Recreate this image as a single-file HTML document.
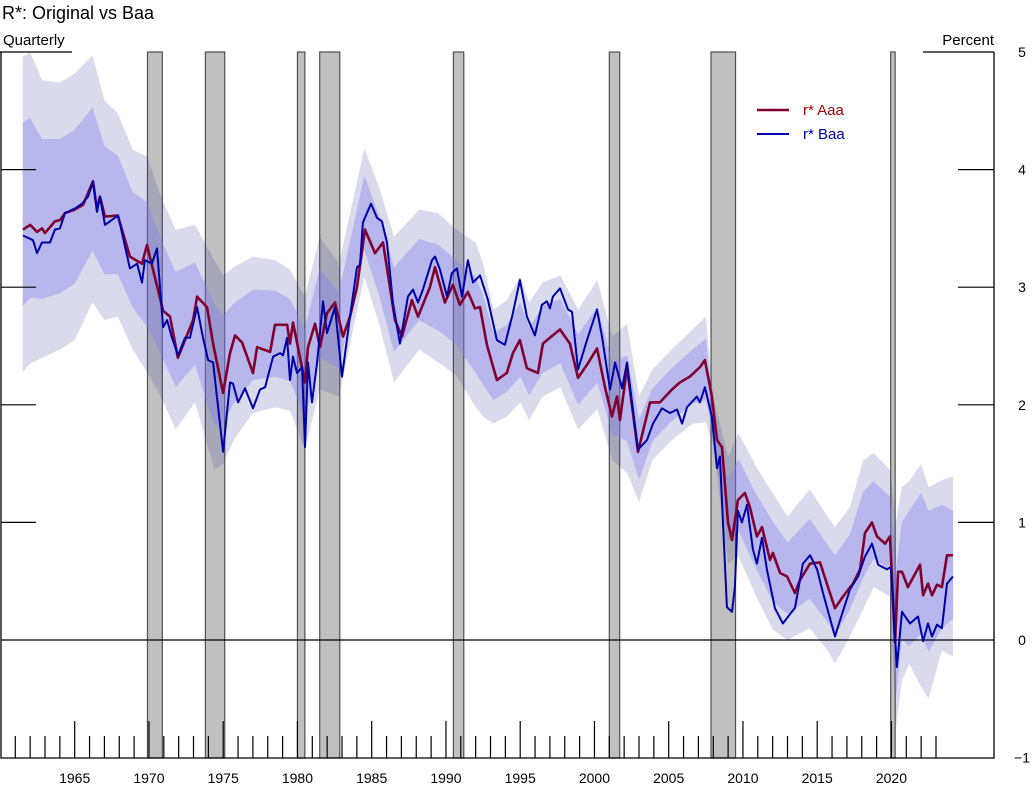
<!DOCTYPE html>
<html><head><meta charset="utf-8"><style>
html,body{margin:0;padding:0;background:#fff;}
svg{display:block;font-family:"Liberation Sans",Arial,sans-serif;}
</style></head><body>
<svg id="chart" width="1034" height="790" viewBox="0 0 1034 790" xmlns="http://www.w3.org/2000/svg">
<text x="2" y="19" font-size="18" fill="#000">R*: Original vs Baa</text>
<text x="3" y="45" font-size="15" fill="#000">Quarterly</text>
<text x="994" y="45" font-size="15" fill="#000" text-anchor="end">Percent</text>
<g id="rec"></g>
<g id="bands"></g>
<g id="axes"></g>
<g id="lines"></g>
<g>
<line x1="757" y1="110" x2="789" y2="110" stroke="#800030" stroke-width="2.5"/>
<text x="803" y="115" font-size="15" fill="#a00000">r* Aaa</text>
<line x1="757" y1="134" x2="789" y2="134" stroke="#0000a8" stroke-width="2"/>
<text x="803" y="139" font-size="15" fill="#0000a0">r* Baa</text>
</g>
</svg>
<script>
const recStart=[1969.9,1973.8,1980.0,1981.5,1990.5,2001.0,2007.85,2019.95];
const recEnd=[1970.9,1975.1,1980.5,1982.85,1991.2,2001.7,2009.5,2020.25];
const yTicks=[-1,0,1,2,3,4,5];
const aaaYears=[1961.52,1962.0,1962.46,1962.8,1963.0,1963.67,1964.0,1964.35,1965.0,1965.56,1966.23,1966.5,1966.7,1967.04,1967.9,1968.72,1969.53,1969.87,1970.27,1970.95,1971.42,1971.95,1972.97,1973.24,1973.91,1974.32,1974.99,1975.46,1975.8,1976.27,1977.01,1977.28,1978.16,1978.49,1979.3,1979.5,1979.7,1980.51,1980.71,1981.18,1981.52,1981.99,1982.53,1983.07,1983.54,1984.01,1984.55,1985.22,1985.76,1986.57,1987.04,1987.71,1988.12,1988.92,1989.26,1989.93,1990.47,1990.94,1991.48,1991.95,1992.29,1992.76,1993.43,1994.1,1994.51,1994.98,1995.45,1996.19,1996.53,1997.0,1997.68,1998.35,1998.89,1999.5,2000.17,2000.71,2001.18,2001.52,2001.72,2002.19,2002.93,2003.74,2004.41,2005.22,2005.75,2006.43,2007.1,2007.44,2007.91,2008.25,2008.59,2008.99,2009.26,2009.66,2010.13,2010.47,2010.94,2011.28,2011.82,2012.02,2012.5,2012.97,2013.5,2013.84,2014.52,2015.19,2015.73,2016.2,2016.74,2017.41,2017.89,2018.22,2018.69,2019.03,2019.57,2019.9,2020.24,2020.45,2020.71,2021.11,2021.92,2022.13,2022.46,2022.73,2023.07,2023.4,2023.74,2024.14];
const aaaValues=[3.49,3.53,3.47,3.5,3.46,3.56,3.57,3.63,3.66,3.7,3.9,3.66,3.77,3.6,3.61,3.26,3.2,3.36,3.15,2.8,2.75,2.4,2.72,2.92,2.83,2.52,2.1,2.44,2.59,2.53,2.27,2.49,2.45,2.68,2.68,2.52,2.7,2.19,2.49,2.69,2.49,2.78,2.87,2.58,2.75,3.0,3.49,3.29,3.38,2.72,2.58,2.89,2.75,3.0,3.17,2.87,3.02,2.85,2.96,2.82,2.83,2.51,2.21,2.27,2.44,2.55,2.31,2.27,2.52,2.57,2.64,2.52,2.23,2.34,2.48,2.15,1.9,2.07,1.87,2.32,1.6,2.02,2.02,2.13,2.19,2.24,2.32,2.38,2.07,1.7,1.64,1.0,0.85,1.19,1.25,1.13,0.88,0.96,0.68,0.74,0.57,0.54,0.4,0.51,0.65,0.66,0.45,0.27,0.37,0.48,0.6,0.91,1.0,0.88,0.82,0.88,-0.02,0.58,0.58,0.45,0.64,0.38,0.48,0.38,0.47,0.45,0.72,0.72];
const baaYears=[1961.52,1962.19,1962.46,1962.8,1963.34,1963.67,1964.0,1964.35,1965.02,1965.49,1965.9,1966.23,1966.5,1966.7,1967.04,1967.92,1968.72,1969.2,1969.53,1969.73,1970.2,1970.54,1970.95,1971.22,1971.55,1971.96,1972.43,1972.76,1973.24,1973.64,1973.98,1974.32,1974.99,1975.46,1975.66,1976.0,1976.47,1977.01,1977.48,1977.82,1978.36,1978.83,1979.03,1979.3,1979.5,1979.7,1979.97,1980.31,1980.51,1980.71,1980.98,1981.32,1981.72,1981.99,1982.53,1983.0,1983.54,1984.01,1984.21,1984.41,1984.95,1985.36,1985.69,1986.03,1986.43,1986.9,1987.44,1987.78,1988.12,1988.45,1989.06,1989.26,1989.6,1990.07,1990.4,1990.74,1991.08,1991.48,1991.82,1992.29,1992.83,1993.43,1993.97,1994.51,1994.98,1995.45,1995.99,1996.46,1996.8,1997.0,1997.2,1997.68,1998.22,1998.49,1998.89,1999.5,2000.17,2000.51,2001.05,2001.39,2001.86,2002.19,2002.93,2003.54,2003.94,2004.55,2005.09,2005.56,2005.9,2006.23,2006.9,2007.1,2007.44,2007.91,2008.25,2008.45,2008.92,2009.26,2009.46,2009.66,2009.93,2010.27,2010.67,2010.94,2011.28,2011.61,2012.15,2012.69,2013.29,2013.5,2014.04,2014.52,2014.99,2015.39,2016.2,2016.54,2017.21,2017.75,2018.22,2018.69,2019.1,2019.7,2019.96,2020.37,2020.71,2021.25,2021.79,2022.13,2022.46,2022.73,2023.07,2023.4,2023.74,2024.14];
const baaValues=[3.44,3.4,3.29,3.38,3.38,3.49,3.5,3.63,3.67,3.71,3.77,3.9,3.64,3.77,3.53,3.61,3.16,3.2,3.04,3.23,3.2,3.33,2.66,2.72,2.57,2.42,2.57,2.57,2.83,2.57,2.38,2.36,1.6,2.19,2.18,2.02,2.14,1.97,2.13,2.15,2.41,2.44,2.42,2.57,2.21,2.41,2.27,2.32,1.64,2.36,2.02,2.36,2.88,2.61,2.83,2.24,2.75,3.17,3.19,3.55,3.71,3.59,3.56,3.38,2.87,2.52,2.92,2.98,2.87,2.98,3.23,3.26,3.15,2.92,3.12,3.16,2.92,3.23,3.04,3.1,2.89,2.55,2.51,2.78,3.06,2.75,2.59,2.85,2.88,2.82,2.92,2.99,2.81,2.79,2.3,2.55,2.81,2.58,2.13,2.36,2.14,2.36,1.62,1.7,1.84,1.97,1.93,1.96,1.84,1.98,2.07,2.02,2.15,1.9,1.46,1.56,0.28,0.24,0.45,1.1,1.0,1.15,0.77,0.65,0.87,0.6,0.27,0.14,0.24,0.27,0.65,0.72,0.6,0.4,0.03,0.17,0.43,0.54,0.71,0.82,0.64,0.6,0.62,-0.23,0.24,0.14,0.2,-0.01,0.14,0.03,0.13,0.1,0.48,0.54];
const bandYears=[1961.5,1962.0,1962.8,1964.0,1965.0,1966.2,1967.0,1967.9,1968.9,1969.9,1970.8,1971.8,1973.1,1974.4,1975.0,1975.7,1977.0,1978.5,1979.5,1980.5,1981.5,1982.8,1984.5,1985.5,1986.5,1988.2,1989.5,1990.7,1992.0,1992.5,1993.2,1994.1,1995.0,1995.6,1996.5,1997.7,1998.9,2000.2,2001.2,2002.2,2003.0,2003.9,2005.2,2006.6,2007.5,2008.0,2009.0,2009.7,2010.9,2012.0,2013.0,2014.5,2015.7,2016.2,2017.2,2018.1,2018.8,2019.9,2020.3,2020.7,2021.2,2022.0,2022.5,2023.4,2024.15];
const outerHi=[4.96,5.0,4.76,4.74,4.82,4.97,4.59,4.48,4.17,4.11,3.77,3.49,3.53,3.23,3.1,3.17,3.26,3.23,3.15,2.92,3.43,3.2,4.18,3.85,3.43,3.66,3.63,3.49,3.38,3.2,2.81,2.89,3.09,2.87,3.04,3.1,2.81,3.06,2.58,2.69,2.07,2.3,2.47,2.64,2.75,2.07,1.56,1.76,1.47,1.25,1.05,1.28,1.05,0.96,1.13,1.53,1.59,1.45,1.0,1.3,1.35,1.5,1.3,1.36,1.39];
const innerHi=[4.40,4.44,4.26,4.26,4.34,4.53,4.20,4.12,3.81,3.72,3.41,3.13,3.21,2.86,2.76,2.86,2.98,2.97,2.90,2.65,3.16,2.96,3.95,3.61,3.17,3.41,3.36,3.23,3.09,2.93,2.61,2.68,2.87,2.66,2.84,2.90,2.60,2.83,2.36,2.42,1.88,2.14,2.31,2.47,2.56,1.98,1.37,1.54,1.24,1.01,0.83,1.03,0.81,0.72,0.90,1.26,1.35,1.22,0.6,1.0,1.1,1.25,1.1,1.15,1.1];
const innerLo=[2.84,2.91,2.90,2.95,3.03,3.31,3.11,3.11,2.83,2.66,2.43,2.15,2.34,1.82,1.84,2.01,2.21,2.24,2.20,1.89,2.40,2.31,3.32,2.93,2.45,2.72,2.63,2.51,2.27,2.17,2.04,2.11,2.24,2.08,2.27,2.35,2.00,2.19,1.75,1.69,1.36,1.69,1.86,2.01,2.04,1.73,0.84,0.93,0.60,0.33,0.22,0.35,0.15,0.04,0.26,0.53,0.69,0.60,-0.5,0.0,-0.05,0.05,-0.1,0.1,0.18];
const outerLo=[2.28,2.35,2.4,2.47,2.55,2.87,2.72,2.75,2.47,2.27,2.07,1.79,2.02,1.45,1.5,1.7,1.93,1.98,1.95,1.62,2.13,2.07,3.09,2.69,2.19,2.47,2.36,2.25,1.98,1.9,1.84,1.9,2.02,1.87,2.07,2.15,1.79,1.96,1.53,1.42,1.17,1.53,1.7,1.84,1.85,1.64,0.65,0.71,0.37,0.09,0.0,0.1,-0.09,-0.2,0.03,0.26,0.45,0.37,-0.75,-0.35,-0.2,-0.4,-0.5,-0.09,-0.14];

const NS='http://www.w3.org/2000/svg';
const L=1,R=994,T=52,B=758;
function xs(yr){return 74.7+(yr-1965)*14.85;}
function ys(v){return 640-v*117.6;}
function mk(tag,attrs,parent){const e=document.createElementNS(NS,tag);for(const k in attrs)e.setAttribute(k,attrs[k]);parent.appendChild(e);return e;}
const rec=document.getElementById('rec'),bands=document.getElementById('bands'),axes=document.getElementById('axes'),lines=document.getElementById('lines');
for(let i=0;i<recStart.length;i++){
  const r=mk('rect',{x:xs(recStart[i]),y:T,width:xs(recEnd[i])-xs(recStart[i]),height:B-T,fill:'#c0c0c0',stroke:'#505050','stroke-width':1.2},rec);
  
  
}
function bandPath(hi,lo){
  let d='';
  for(let i=0;i<bandYears.length;i++)d+=(i?'L':'M')+xs(bandYears[i]).toFixed(1)+','+ys(Math.min(5,hi[i])).toFixed(1);
  for(let i=bandYears.length-1;i>=0;i--)d+='L'+xs(bandYears[i]).toFixed(1)+','+ys(lo[i]).toFixed(1);
  return d+'Z';
}
const ob=mk('path',{d:bandPath(outerHi,outerLo),fill:'rgba(60,60,160,0.19)'},bands);


const ib=mk('path',{d:bandPath(innerHi,innerLo),fill:'rgba(130,130,240,0.4)'},bands);


let a=mk('path',{d:`M${L},${T}V${B}H${R}V${T}`,fill:'none',stroke:'#000','stroke-width':1.3},axes);


a=mk('line',{x1:0,y1:T,x2:72,y2:T,stroke:'#000','stroke-width':1.3},axes);


a=mk('line',{x1:923,y1:T,x2:R,y2:T,stroke:'#000','stroke-width':1.3},axes);


a=mk('line',{x1:L,y1:ys(0),x2:R,y2:ys(0),stroke:'#000','stroke-width':1.2},axes);


yTicks.forEach(v=>{
  const y=ys(v);
  if(v>-1&&v<5&&v!==0){
    const t1=mk('line',{x1:L,y1:y,x2:36,y2:y,stroke:'#000','stroke-width':1.2},axes);
    
    
    const t2=mk('line',{x1:958,y1:y,x2:R,y2:y,stroke:'#000','stroke-width':1.2},axes);
    
    
  }
  const tx=mk('text',{x:1022,y:y+5,'font-size':14,'text-anchor':'middle',fill:'#000'},axes);
  tx.textContent=v<0?'\u2212'+Math.abs(v):String(v);
  
  
});
for(let yr=1961;yr<=2023;yr++){
  const x=xs(yr),major=yr%5===0;
  const t=mk('line',{x1:x,y1:major?721:736,x2:x,y2:B,stroke:'#000','stroke-width':1.2},axes);
  
  
  if(major){
    const tx=mk('text',{x:x,y:783,'font-size':14,'text-anchor':'middle',fill:'#000'},axes);
    tx.textContent=String(yr);
    
    
  }
}
function linePath(xsArr,vArr){return xsArr.map((yr,i)=>(i?'L':'M')+xs(yr).toFixed(1)+','+ys(vArr[i]).toFixed(1)).join('');}
const la=mk('path',{d:linePath(aaaYears,aaaValues),fill:'none',stroke:'#800030','stroke-width':2.6,'stroke-linejoin':'round'},lines);


const lb=mk('path',{d:linePath(baaYears,baaValues),fill:'none',stroke:'#0000a8','stroke-width':2,'stroke-linejoin':'round'},lines);


</script>
</body></html>
